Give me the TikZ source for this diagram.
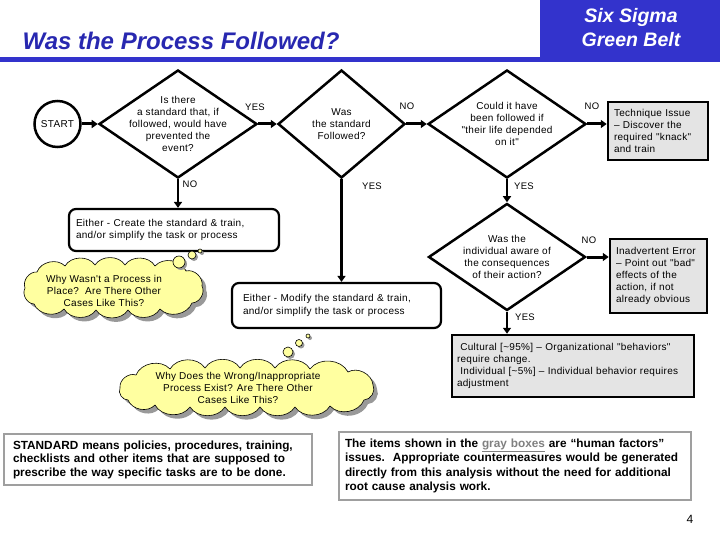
\documentclass[tikz,border=0pt]{standalone}
\usepackage{fontspec}
\setmainfont{Liberation Sans}
\newfontfamily\widefont[LetterSpace=3]{Liberation Sans}
\usepackage{xcolor}
\usetikzlibrary{arrows.meta, positioning, shapes.geometric, shadows}

\definecolor{sigmablue}{RGB}{51,51,204}
\definecolor{titleblue}{RGB}{40,40,176}
\definecolor{cloudyellow}{RGB}{255,255,160}
\definecolor{boxgray}{RGB}{228,228,228}

% outline points of the two thought clouds
\def\whynotpts{37/272,65/266,95/265,125/265,155/266,186/271,202/286,192/303,160/309,128/310,96/310,64/309,34/304,25/288}
\def\whywrongpts{136/375,170/369,205/368,240/368,275/368,310/369,348/372,373/385,364/400,330/406,295/407,260/407,225/407,190/407,155/405,128/400,120/388}

\begin{document}
\begin{tikzpicture}[
    x=1pt, y=-1pt,
    small/.style={font=\widefont\fontsize{10}{12}\selectfont},
    decision/.style={diamond, draw, line width=2.5pt, inner sep=0pt},
    roundbox/.style={rectangle, draw, line width=2.2pt, rounded corners=7pt,
                align=left, font=\widefont\fontsize{10}{12.5}\selectfont},
    graybox/.style={rectangle, draw, line width=2.5pt, fill=boxgray,
                align=left, small},
    notebox/.style={rectangle, draw=gray!75, line width=2.5pt, fill=white,
                align=left, font=\fontsize{11.8}{13.5}\selectfont\bfseries},
    puff/.style={draw, line width=0.6pt, fill=cloudyellow,
                drop shadow={shadow xshift=4pt, shadow yshift=-4pt, fill=black!40, opacity=1}},
    bubble/.style={circle, draw, line width=0.6pt, fill=cloudyellow, inner sep=0pt,
                drop shadow={shadow xshift=2pt, shadow yshift=-2pt, fill=black!40, opacity=1}},
    flow/.style={-{Triangle[length=6pt, width=8pt]}, line width=3pt},
    flowdown/.style={flow, line width=2.2pt},
    answer/.style={font=\widefont\fontsize{9.5}{10}\selectfont},
]
    \useasboundingbox (0,0) rectangle (720,540);

    % Header
    \fill[sigmablue] (540,0) rectangle (720,62);
    \fill[sigmablue] (0,57) rectangle (540,62);
    \node[anchor=west, text=titleblue, font=\fontsize{24}{28}\selectfont\bfseries\itshape]
        (title) at (19,41) {Was the Process Followed?};
    \node[align=center, text=white, font=\fontsize{19.5}{24}\selectfont\bfseries\itshape]
        (belt) at (631,28) {Six Sigma\\Green Belt};

    % Flow
    \node[circle, draw, line width=2.5pt, minimum size=46pt, inner sep=0pt, small]
        (start) at (57.5,124) {START};
    \node[decision, minimum width=158pt, minimum height=108pt,
          label={[small, align=center]center:{Is there\\a standard that, if\\followed, would have\\prevented the\\event?}}]
        (std) at (178,124) {};
    \node[decision, minimum width=127pt, minimum height=108pt,
          label={[small, align=center]center:{Was\\the standard\\Followed?}}]
        (followed) at (341.5,124) {};
    \node[decision, minimum width=158pt, minimum height=108pt,
          label={[small, align=center]center:{Could it have\\been followed if\\"their life depended\\on it"}}]
        (life) at (507,124) {};
    \node[decision, minimum width=157pt, minimum height=107pt,
          label={[small, align=center]center:{Was the\\individual aware of\\the consequences\\of their action?}}]
        (aware) at (507,257) {};

    \node[graybox, text width=88pt, inner xsep=6pt, minimum height=58pt]
        (technique) at (658,131) {Technique Issue\\– Discover the\\required "knack"\\and train};
    \node[graybox, text width=85pt, inner xsep=6pt, minimum height=74pt]
        (error) at (658.5,276) {Inadvertent Error\\– Point out "bad"\\effects of the\\action, if not\\already obvious};
    \node[graybox, text width=232pt, inner xsep=5pt, minimum height=62pt]
        (cultural) at (573,366) {\ Cultural [\textasciitilde95\%] – Organizational "behaviors"\\require change.\\\ Individual [\textasciitilde5\%] – Individual behavior requires\\adjustment};

    \node[roundbox, text width=196pt, inner xsep=7pt, minimum height=42pt]
        (create) at (174,230) {Either - Create the standard \& train,\\and/or simplify the task or process};
    \node[roundbox, text width=187pt, inner xsep=11pt, minimum height=45pt]
        (modify) at (336.5,305.5) {Either - Modify the standard \& train,\\and/or simplify the task or process};

    % Thought clouds
    \path[puff] (25,288) \foreach \x/\y in \whynotpts { to[bend left=58] (\x,\y) } -- cycle;
    \node[small, align=center] (whynot) at (104,291) {Why Wasn't a Process in\\Place?\ \ Are There Other\\Cases Like This?};
    \node[bubble, minimum size=12pt] (whynota) at (179,262) {};
    \node[bubble, minimum size=8pt] (whynotb) at (192,255) {};
    \node[bubble, minimum size=4pt] (whynotc) at (200,251) {};
    \path[puff] (120,388) \foreach \x/\y in \whywrongpts { to[bend left=58] (\x,\y) } -- cycle;
    \node[small, align=center] (whywrong) at (238,388) {Why Does the Wrong/Inappropriate\\Process Exist? Are There Other\\Cases Like This?};
    \node[bubble, minimum size=10pt] (whywronga) at (288,352) {};
    \node[bubble, minimum size=7pt] (whywrongb) at (299,343) {};
    \node[bubble, minimum size=4pt] (whywrongc) at (308,336) {};

    % Notes
    \node[notebox, text width=290pt, inner xsep=9pt, minimum height=51pt]
        (standard) at (158,459.5) {STANDARD means policies, procedures, training,\\checklists and other items that are supposed to\\prescribe the way specific tasks are to be done.};
    \node[notebox, text width=340pt, inner xsep=6pt, minimum height=68pt,
          font=\fontsize{11.8}{14.5}\selectfont\bfseries]
        (human) at (515,466) {The items shown in the \textcolor{gray}{\underline{gray boxes}} are “human factors”\\issues.\ \ Appropriate countermeasures would be generated\\directly from this analysis without the need for additional\\root cause analysis work.};
    \node[font=\fontsize{12}{13}\selectfont] (page) at (690,519) {4};

    \draw[flow] (start) -- (std);
    \draw[flow] (std) -- (followed);
    \draw[flow] (followed) -- (life);
    \draw[flow] (life.east) -- (life.east -| technique.west);
    \draw[flowdown] (std.south) -- (std.south |- create.north);
    \draw[flowdown] (followed.south) -- (followed.south |- modify.north);
    \draw[flowdown] (life) -- (aware);
    \draw[flow] (aware.east) -- (aware.east -| error.west);
    \draw[flowdown] (aware.south) -- (aware.south |- cultural.north);

    % Answers
    \node[answer] (yesstd) at (255,107) {YES};
    \node[answer] (nofollowed) at (407,106) {NO};
    \node[answer] (nolife) at (592,106) {NO};
    \node[answer] (nostd) at (190,184) {NO};
    \node[answer] (yesfollowed) at (372,186) {YES};
    \node[answer] (yeslife) at (524,186) {YES};
    \node[answer] (noaware) at (589,240) {NO};
    \node[answer] (yesaware) at (525,317) {YES};
\end{tikzpicture}
\end{document}
